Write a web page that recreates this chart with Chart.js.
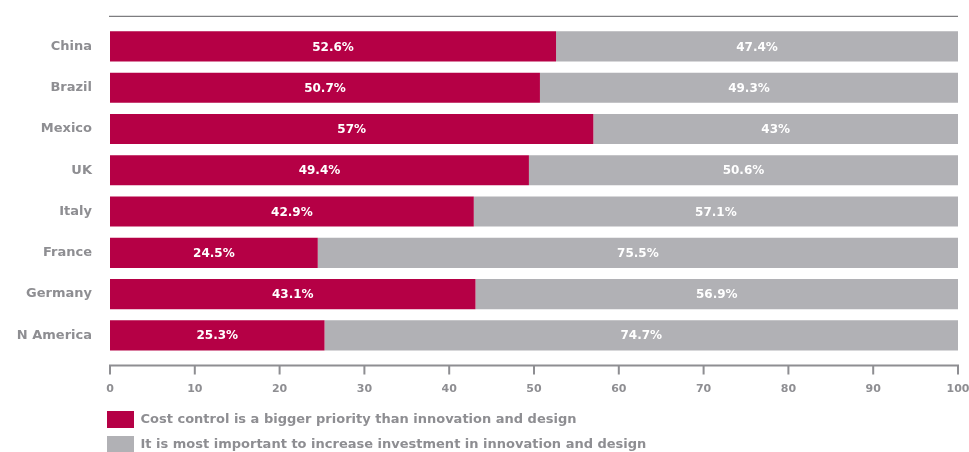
<!DOCTYPE html>
<html>
<head>
<meta charset="utf-8">
<script src="https://cdn.jsdelivr.net/npm/chart.js@4/dist/chart.umd.min.js"></script>
<style>
  html, body { margin: 0; padding: 0; background: #fff; }
  #wrap { width: 969px; height: 452px; position: relative; }
</style>
</head>
<body>
<div id="wrap"><canvas id="surveyChart"></canvas></div>
<script>
// chart values
var countries = ["China", "Brazil", "Mexico", "UK", "Italy", "France", "Germany", "N America"];
var costControl = [52.6, 50.7, 57, 49.4, 42.9, 24.5, 43.1, 25.3];
var investInnovation = [47.4, 49.3, 43, 50.6, 57.1, 75.5, 56.9, 74.7];
var xTicks = [0, 10, 20, 30, 40, 50, 60, 70, 80, 90, 100];
var seriesNames = [
  "Cost control is a bigger priority than innovation and design",
  "It is most important to increase investment in innovation and design"
];

var labelGrey = "#8e8e92";
var fontFamily = "'DejaVu Sans', 'Liberation Sans', Arial, sans-serif";

// white percentage text in the middle of each bar segment
var barLabels = {
  id: "barLabels",
  afterDatasetsDraw: function (chart) {
    var ctx = chart.ctx;
    ctx.save();
    ctx.fillStyle = "#ffffff";
    ctx.font = "bold 12px " + fontFamily;
    ctx.textAlign = "center";
    ctx.textBaseline = "middle";
    chart.data.datasets.forEach(function (ds, i) {
      chart.getDatasetMeta(i).data.forEach(function (bar, j) {
        var c = bar.getCenterPoint();
        ctx.fillText(ds.data[j] + "%", c.x, c.y + 1);
      });
    });
    ctx.restore();
  }
};

// top rule and the bottom axis line with tick marks
var axisLines = {
  id: "axisLines",
  afterLayout: function (chart) {
    // nudge legend to sit under the bar start like the original
    chart.legend.left -= 11;
    chart.legend.top += 1;
  },
  afterDraw: function (chart) {
    var ctx = chart.ctx;
    var area = chart.chartArea;
    var x = chart.scales.x;
    ctx.save();
    ctx.strokeStyle = "#7d7d80";
    ctx.lineWidth = 1.2;
    ctx.beginPath();
    ctx.moveTo(area.left - 1, area.top - 9.5);
    ctx.lineTo(area.right, area.top - 9.5);
    ctx.stroke();

    var y0 = area.bottom + 9.5;
    ctx.strokeStyle = "#8e8e92";
    ctx.lineWidth = 2;
    ctx.beginPath();
    ctx.moveTo(x.getPixelForValue(0) - 1, y0);
    ctx.lineTo(x.getPixelForValue(100) + 1, y0);
    xTicks.forEach(function (t) {
      var px = x.getPixelForValue(t);
      ctx.moveTo(px, y0);
      ctx.lineTo(px, y0 + 9);
    });
    ctx.stroke();
    ctx.restore();
  }
};

var ctx = document.getElementById("surveyChart").getContext("2d");
var surveyChart = new Chart(ctx, {
  type: "bar",
  data: {
    labels: countries,
    datasets: [
      {
        label: seriesNames[0],
        data: costControl,
        backgroundColor: "#b50045",
        borderWidth: 0,
        barPercentage: 0.73,
        categoryPercentage: 1
      },
      {
        label: seriesNames[1],
        data: investInnovation,
        backgroundColor: "#b1b1b5",
        borderWidth: 0,
        barPercentage: 0.73,
        categoryPercentage: 1
      }
    ]
  },
  plugins: [barLabels, axisLines],
  options: {
    indexAxis: "y",
    responsive: true,
    maintainAspectRatio: false,
    animation: false,
    layout: {
      padding: { left: 0, right: 0, top: 25, bottom: -10 }
    },
    scales: {
      x: {
        stacked: true,
        min: 0,
        max: 100,
        afterBuildTicks: function (scale) {
          scale.ticks = xTicks.map(function (v) { return { value: v }; });
        },
        afterFit: function (scale) {
          scale.height = 46;
          scale.paddingRight = 11;
        },
        grid: { display: false, drawTicks: false },
        border: { display: false },
        ticks: {
          padding: 27,
          color: labelGrey,
          font: { family: fontFamily, size: 11, weight: "bold" },
          maxRotation: 0
        }
      },
      y: {
        stacked: true,
        afterFit: function (scale) {
          scale.width = 110;
        },
        grid: { display: false, drawTicks: false },
        border: { display: false },
        ticks: {
          padding: 18,
          color: labelGrey,
          font: { family: fontFamily, size: 13, weight: "bold" }
        }
      }
    },
    plugins: {
      legend: {
        position: "bottom",
        align: "start",
        fullSize: false,
        labels: {
          boxWidth: 27,
          boxHeight: 17,
          padding: 8,
          color: labelGrey,
          font: { family: fontFamily, size: 13, weight: "bold" }
        }
      },
      tooltip: { enabled: false }
    }
  }
});
</script>
</body>
</html>
